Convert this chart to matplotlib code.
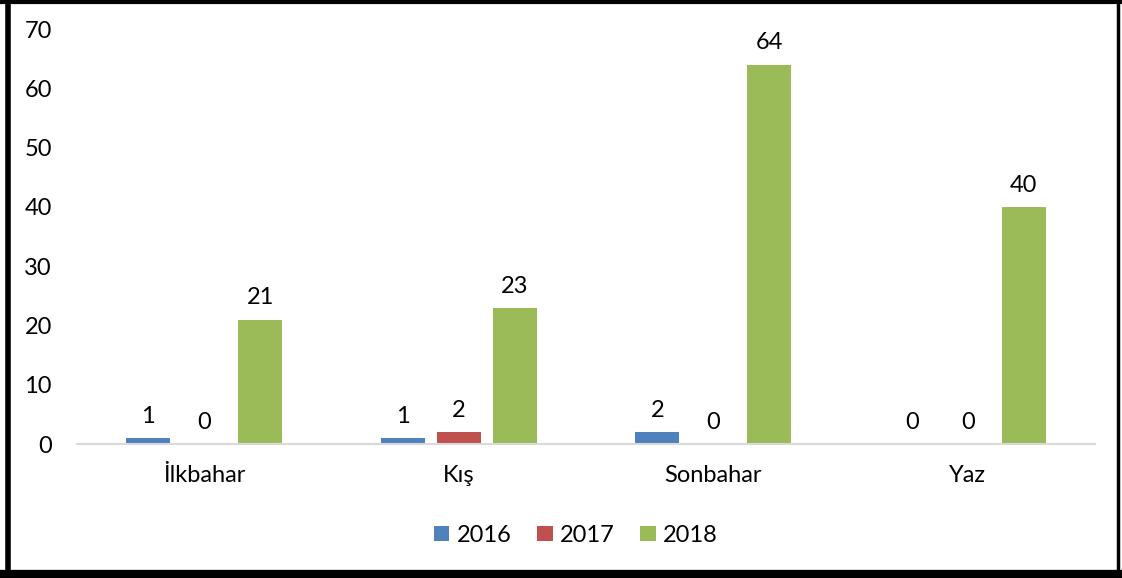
import matplotlib.pyplot as plt
import numpy as np
from matplotlib.lines import Line2D

seasons = ['İlkbahar', 'Kış', 'Sonbahar', 'Yaz']
years = ['2016', '2017', '2018']
v2016 = [1, 1, 2, 0]
v2017 = [0, 2, 0, 0]
v2018 = [21, 23, 64, 40]
colors = ['#4f81bd', '#c0504d', '#9bbb59']

plt.rcParams['font.family'] = ['Lato', 'DejaVu Sans']
fs = 17

fig = plt.figure(figsize=(11.22, 5.78), dpi=100)
ax = fig.add_axes([0.0686, 0.2318, 0.9074, 0.718])

x = np.arange(len(seasons))
width = 0.173
step = 0.22
for i, (vals, year) in enumerate(zip([v2016, v2017, v2018], years)):
    pos = x + (i - 1) * step
    bars = ax.bar(pos, vals, width, color=colors[i], label=year)
    for b, v in zip(bars, vals):
        ax.annotate(str(v), (b.get_x() + b.get_width() / 2, v), xytext=(0, 8),
                    textcoords='offset points', ha='center', va='bottom', fontsize=fs)

ax.set_xlim(-0.5, 3.5)
ax.set_ylim(0, 70)
ax.set_yticks(range(0, 71, 10))
ax.set_xticks(x)
ax.set_xticklabels(seasons)
ax.tick_params(axis='both', length=0, labelsize=fs)
ax.tick_params(axis='x', pad=15)
ax.tick_params(axis='y', pad=18)
for s in ['top', 'right', 'left']:
    ax.spines[s].set_visible(False)
ax.spines['bottom'].set_color('#d9d9d9')
ax.spines['bottom'].set_linewidth(1.5)

ax.legend(loc='center', bbox_to_anchor=(0.49, -0.22), ncol=3, frameon=False,
          fontsize=fs, handlelength=0.65, handleheight=0.65, handletextpad=0.3,
          columnspacing=1.1)

# border around the chart
fig.add_artist(Line2D([0.007, 0.007], [0, 1], transform=fig.transFigure, color='black', lw=4))
fig.add_artist(Line2D([0, 1], [0.997, 0.997], transform=fig.transFigure, color='black', lw=3))
fig.add_artist(Line2D([0, 1], [0.007, 0.007], transform=fig.transFigure, color='black', lw=6))
fig.add_artist(Line2D([0.9965, 0.9965], [0, 1], transform=fig.transFigure, color='black', lw=2.5))

fig.savefig('out.png', dpi=100)
